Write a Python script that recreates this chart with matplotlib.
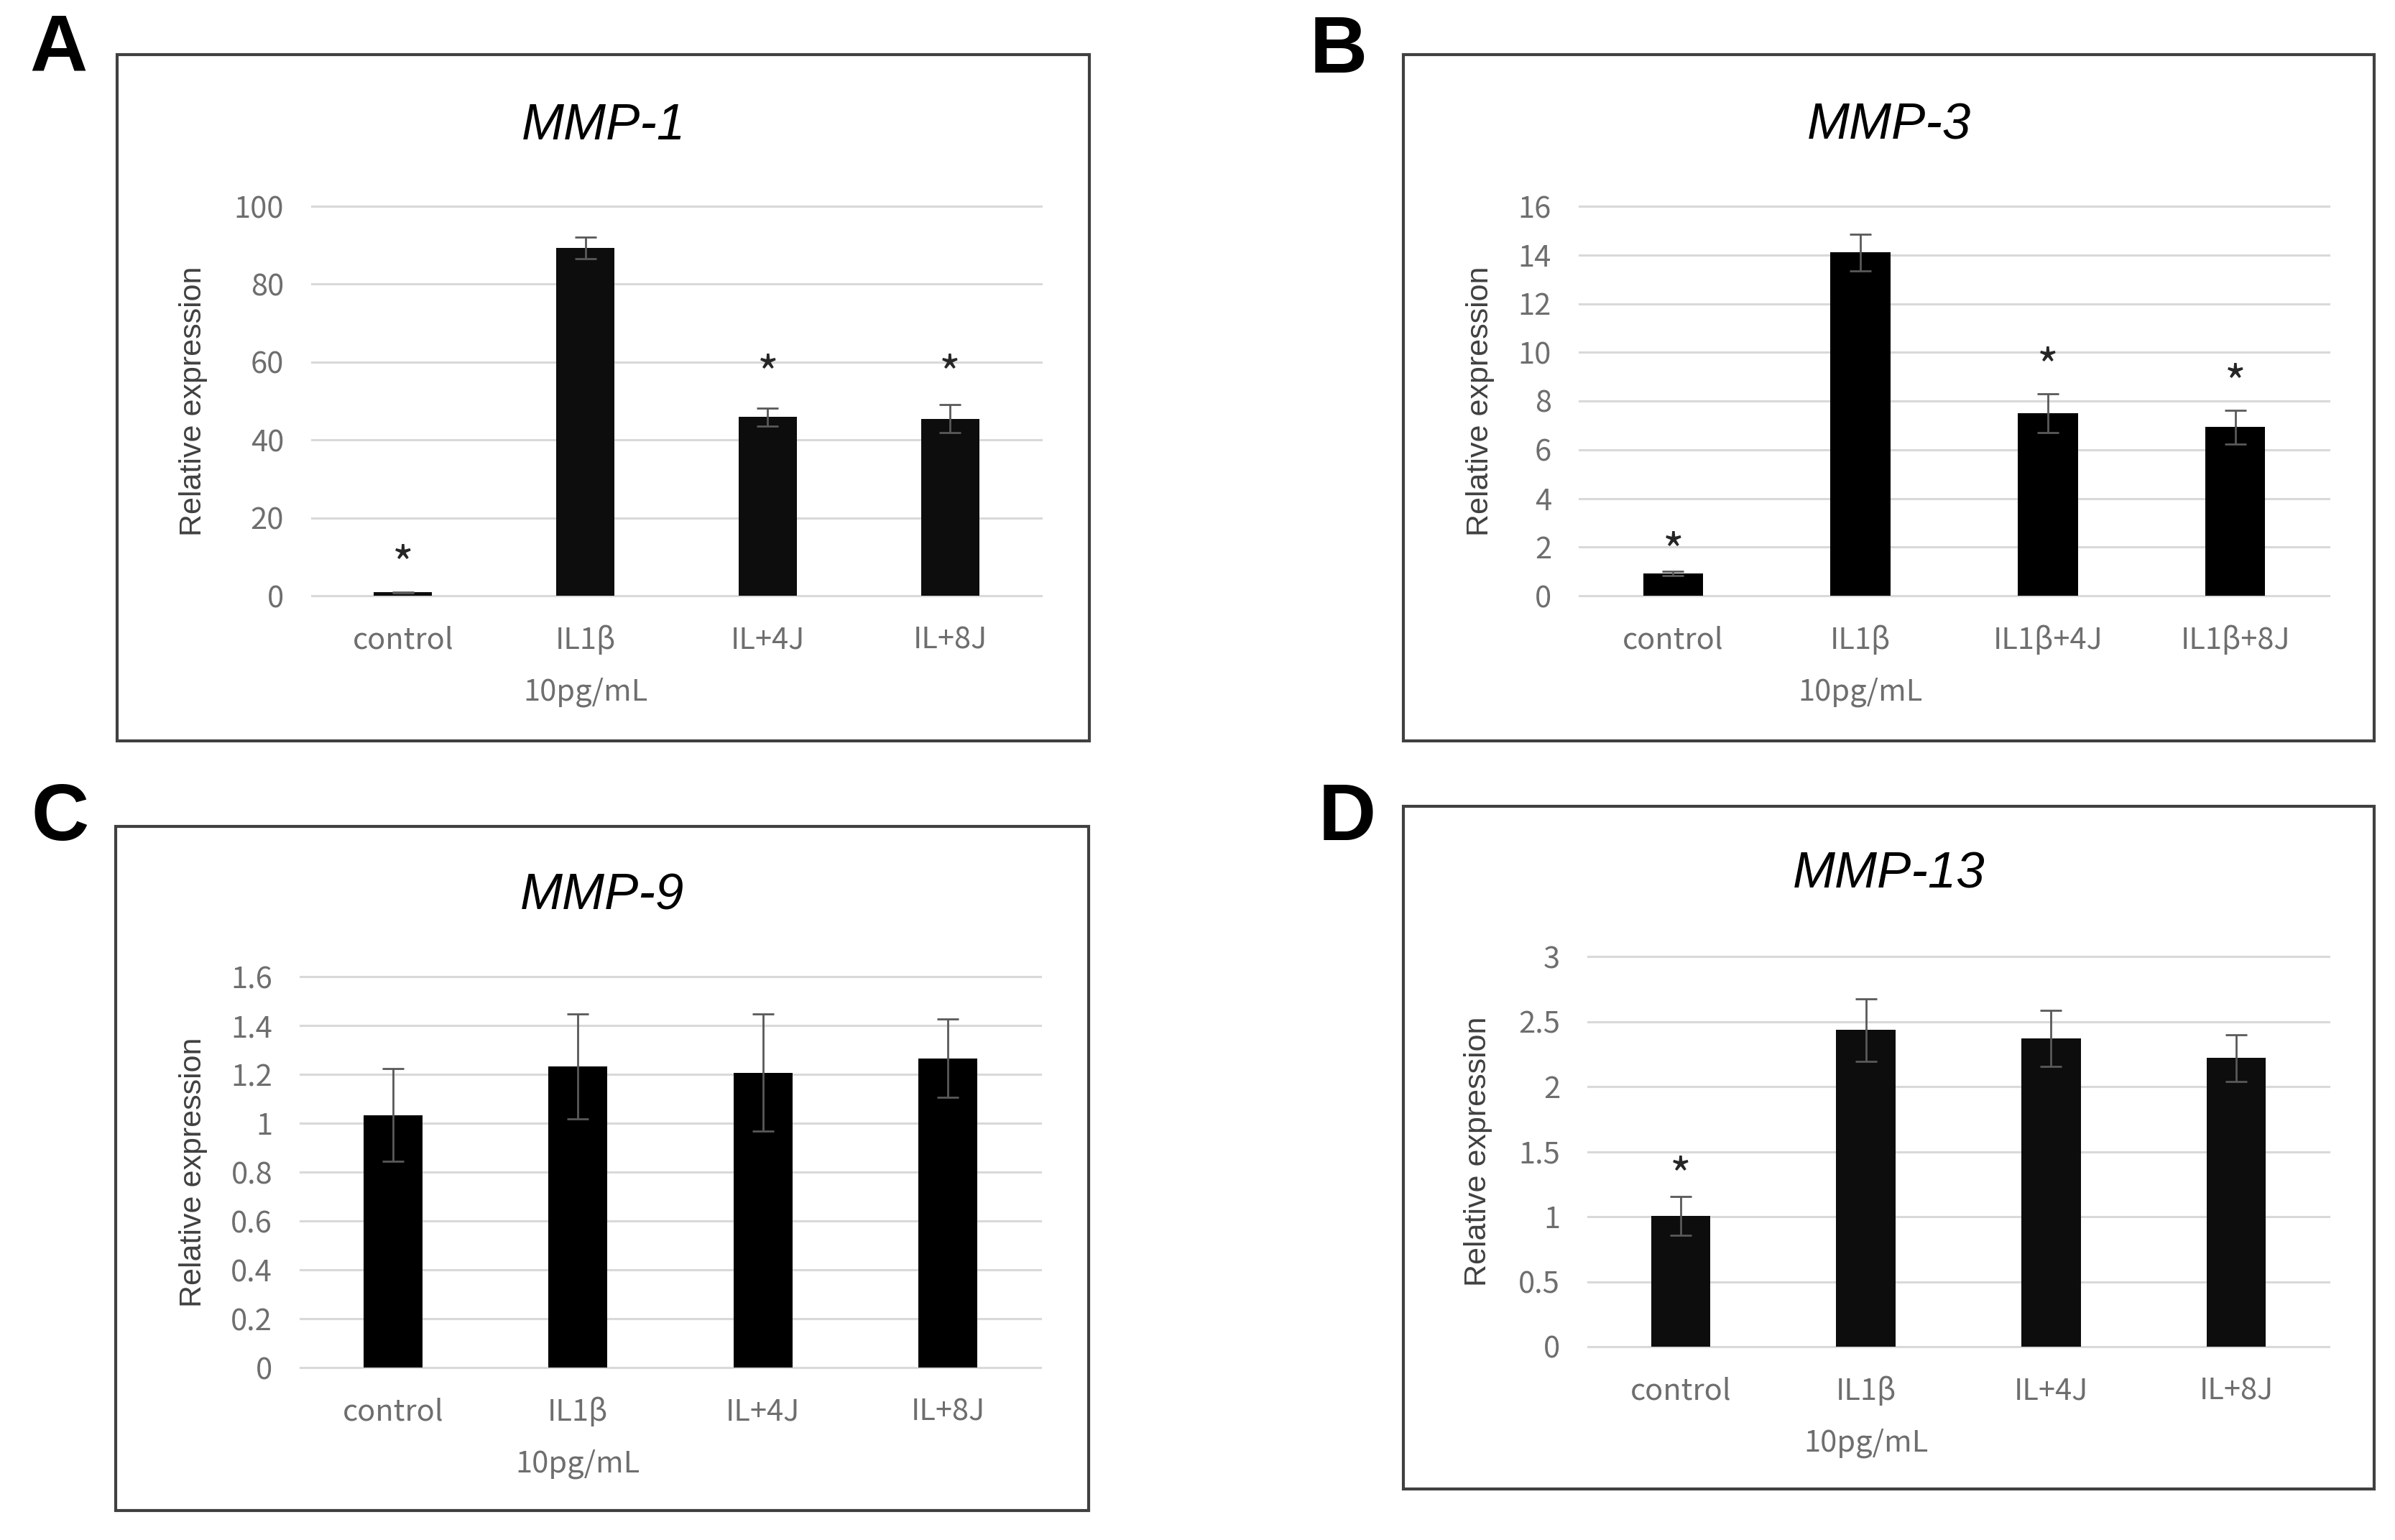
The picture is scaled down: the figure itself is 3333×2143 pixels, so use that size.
import matplotlib
matplotlib.use('Agg')
import matplotlib.pyplot as plt
from matplotlib.patches import Rectangle
from matplotlib.ticker import FuncFormatter

W, H = 3333, 2143

# data
labels_a = ['control', 'IL1β\n10pg/mL', 'IL+4J', 'IL+8J']
labels_b = ['control', 'IL1β\n10pg/mL', 'IL1β+4J', 'IL1β+8J']

mmp1 = [0.9, 89.3, 45.9, 45.4]
mmp1_err = [0.1, 2.7, 2.3, 3.6]
mmp1_stars = [11, None, 60, 60]

mmp3 = [0.92, 14.1, 7.5, 6.93]
mmp3_err = [0.08, 0.75, 0.8, 0.7]
mmp3_stars = [2.3, None, 9.9, 9.2]

mmp9 = [1.033, 1.232, 1.207, 1.266]
mmp9_err = [0.19, 0.215, 0.24, 0.16]
mmp9_stars = [None, None, None, None]

mmp13 = [1.006, 2.436, 2.371, 2.219]
mmp13_err = [0.147, 0.24, 0.215, 0.18]
mmp13_stars = [1.4, None, None, None]

TICK_C = '#6e6e6e'
LABEL_C = '#404040'


def px_rect(l, t, r, b):
    return [l / W, 1 - b / H, (r - l) / W, (b - t) / H]


fig = plt.figure(figsize=(W / 100, H / 100), dpi=100)


def panel(letter, title, box, axpos, ymax, ystep, vals, errs, stars, labels,
          ylab_x, letter_xy, title_base, color):
    l, t, r, b = box
    fig.patches.append(Rectangle((l / W, 1 - b / H), (r - l) / W, (b - t) / H,
                                 transform=fig.transFigure, fill=False,
                                 edgecolor='#404040', linewidth=3))
    fig.text(letter_xy[0] / W, 1 - letter_xy[1] / H, letter, fontsize=80,
             fontweight='bold', family='Liberation Sans', ha='left', va='top')
    fig.text((l + r) / 2 / W, 1 - title_base / H, title, fontsize=51,
             style='italic', family='Liberation Sans', ha='center',
             va='baseline')

    ax = fig.add_axes(px_rect(*axpos))
    x = list(range(len(vals)))
    ax.bar(x, vals, width=0.32, color=color, zorder=3)
    ax.errorbar(x, vals, yerr=errs, fmt='none', ecolor='#595959',
                elinewidth=2, capsize=11, capthick=2, zorder=4)
    for xi, s in zip(x, stars):
        if s is not None:
            ax.annotate('*', (xi, s), xytext=(0, -28), textcoords='offset points',
                        ha='center', va='baseline', fontsize=46,
                        family='Noto Sans CJK JP', color='#262626')

    ax.set_xlim(-0.5, len(vals) - 0.5)
    ax.set_ylim(0, ymax)
    n = int(round(ymax / ystep))
    ax.set_yticks([i * ystep for i in range(n + 1)])
    ax.yaxis.set_major_formatter(FuncFormatter(lambda v, p: '{:g}'.format(round(v, 3))))
    ax.set_xticks(x)
    ax.set_xticklabels(labels, linespacing=1.95)
    for lab in ax.get_xticklabels() + ax.get_yticklabels():
        lab.set_family('Noto Sans CJK JP')
        lab.set_fontsize(30)
        lab.set_color(TICK_C)
    ax.tick_params(axis='both', length=0)
    ax.tick_params(axis='y', pad=28)
    ax.tick_params(axis='x', pad=30)
    for sp in ax.spines.values():
        sp.set_visible(False)
    ax.yaxis.grid(True, color='#d9d9d9', linewidth=2.2, zorder=0)
    ax.set_axisbelow(True)
    for gl in ax.get_ygridlines():
        gl.set_clip_on(False)
    ax.set_ylabel('Relative expression', fontsize=31, family='Liberation Sans',
                  color=LABEL_C)
    ax.yaxis.set_label_coords(ylab_x, 0.5)
    return ax


panel('A', 'MMP-1', (163, 76, 1516, 1031), (434, 287, 1449, 829), 100, 20,
      mmp1, mmp1_err, mmp1_stars, labels_a, -0.143, (41, 17), 194, '#0d0d0d')
panel('B', 'MMP-3', (1953, 76, 3304, 1031), (2198, 287, 3241, 829), 16, 2,
      mmp3, mmp3_err, mmp3_stars, labels_b, -0.113, (1823, 20), 194, 'black')
panel('C', 'MMP-9', (161, 1150, 1515, 2102), (418, 1359, 1448, 1903), 1.6, 0.2,
      mmp9, mmp9_err, mmp9_stars, labels_a, -0.125, (43, 1088), 1265, 'black')
panel('D', 'MMP-13', (1953, 1122, 3304, 2072), (2210, 1331, 3241, 1874), 3, 0.5,
      mmp13, mmp13_err, mmp13_stars, labels_a, -0.129, (1835, 1088), 1236, '#0d0d0d')

fig.savefig('out.png', dpi=100, facecolor='white')
